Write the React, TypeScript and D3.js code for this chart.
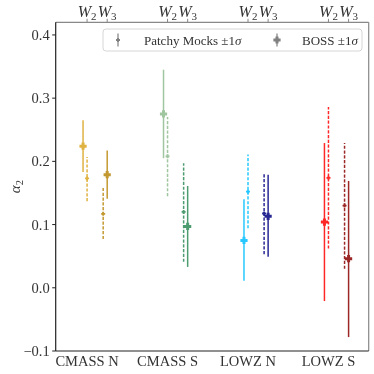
import React, { useEffect, useRef } from "react";
import * as d3 from "d3";

// samples along the x axis
const samples = ["CMASS N", "CMASS S", "LOWZ N", "LOWZ S"];
const w2Colors = ["#DAA520", "#8FBC8F", "#00BFFF", "#FF0000"];
const w3Colors = ["#B8860B", "#2E8B57", "#000080", "#8B0000"];

// BOSS measurements (W2 and W3), centre and 1 sigma bounds
const bossW2 = [0.224, 0.275, 0.075, 0.104];
const bossW2Lo = [0.183, 0.205, 0.011, -0.021];
const bossW2Hi = [0.265, 0.345, 0.14, 0.229];
const bossW3 = [0.179, 0.097, 0.113, 0.046];
const bossW3Lo = [0.141, 0.033, 0.049, -0.078];
const bossW3Hi = [0.217, 0.161, 0.179, 0.169];

// Patchy mocks
const mockW2 = [0.173, 0.208, 0.152, 0.174];
const mockW2Lo = [0.137, 0.145, 0.094, 0.062];
const mockW2Hi = [0.207, 0.27, 0.211, 0.286];
const mockW3 = [0.117, 0.12, 0.1175, 0.13];
const mockW3Lo = [0.077, 0.041, 0.053, 0.03];
const mockW3Hi = [0.158, 0.197, 0.181, 0.229];

const yTicks = [-0.1, 0.0, 0.1, 0.2, 0.3, 0.4];

const FONT = "'Liberation Serif', 'DejaVu Serif', serif";

// thick plus marker (like matplotlib "P")
const plus = (r: number, w: number) => {
  const p = d3.path();
  p.moveTo(-w, -r); p.lineTo(w, -r); p.lineTo(w, -w); p.lineTo(r, -w);
  p.lineTo(r, w); p.lineTo(w, w); p.lineTo(w, r); p.lineTo(-w, r);
  p.lineTo(-w, w); p.lineTo(-r, w); p.lineTo(-r, -w); p.lineTo(-w, -w);
  p.closePath();
  return p.toString();
};

function App() {
  const ref = useRef<SVGSVGElement>(null);

  useEffect(() => {
    const width = 374;
    const height = 374;
    const margin = { top: 22.3, right: 5.3, bottom: 23, left: 55.7 };

    const svg = d3.select(ref.current).attr("width", width).attr("height", height);
    svg.selectAll("*").remove();

    const x = d3.scaleLinear().domain([-0.39, 3.5]).range([margin.left, width - margin.right]);
    const y = d3.scaleLinear().domain([-0.1, 0.42]).range([height - margin.bottom, margin.top]);

    const bossSym = plus(3.6, 1.5);
    const mockSym = plus(2, 0.9);

    const series = [
      { off: -0.05, c: bossW2, lo: bossW2Lo, hi: bossW2Hi, colors: w2Colors, dash: null, sym: bossSym },
      { off: 0.0, c: mockW2, lo: mockW2Lo, hi: mockW2Hi, colors: w2Colors, dash: "3.2,1.6", sym: mockSym },
      { off: 0.2, c: mockW3, lo: mockW3Lo, hi: mockW3Hi, colors: w3Colors, dash: "3.2,1.6", sym: mockSym },
      { off: 0.25, c: bossW3, lo: bossW3Lo, hi: bossW3Hi, colors: w3Colors, dash: null, sym: bossSym },
    ];

    series.forEach((s) => {
      const g = svg.append("g").attr("opacity", 0.85);
      samples.forEach((_, i) => {
        const px = x(i + s.off);
        g.append("line")
          .attr("x1", px).attr("x2", px)
          .attr("y1", y(s.lo[i])).attr("y2", y(s.hi[i]))
          .attr("stroke", s.colors[i])
          .attr("stroke-width", 1.5)
          .attr("stroke-dasharray", s.dash);
        g.append("path")
          .attr("d", s.sym)
          .attr("transform", `translate(${px},${y(s.c[i])})`)
          .attr("fill", s.colors[i]);
      });
    });

    // spines
    const x0 = margin.left, x1 = width - margin.right;
    const y0 = margin.top, y1 = height - margin.bottom;
    svg.append("line").attr("x1", x0).attr("x2", x1).attr("y1", y0).attr("y2", y0).attr("stroke", "#888").attr("stroke-width", 1.2);
    svg.append("line").attr("x1", x1).attr("x2", x1).attr("y1", y0).attr("y2", y1).attr("stroke", "#888").attr("stroke-width", 1.2);
    svg.append("line").attr("x1", x0).attr("x2", x1).attr("y1", y1).attr("y2", y1).attr("stroke", "#222").attr("stroke-width", 1.2);
    svg.append("line").attr("x1", x0).attr("x2", x0).attr("y1", y0).attr("y2", y1).attr("stroke", "#222").attr("stroke-width", 1.2);

    // y axis
    const yAxis = svg.append("g");
    yTicks.forEach((t) => {
      yAxis.append("line")
        .attr("x1", x0 - 3.5).attr("x2", x0)
        .attr("y1", y(t)).attr("y2", y(t))
        .attr("stroke", "#222").attr("stroke-width", 1);
      yAxis.append("text")
        .attr("x", x0 - 6)
        .attr("y", y(t))
        .attr("dy", "0.34em")
        .attr("text-anchor", "end")
        .attr("font-family", FONT)
        .attr("font-size", 14.5)
        .attr("fill", "#333")
        .text(t < 0 ? "\u2212" + d3.format(".1f")(-t) : d3.format(".1f")(t));
    });

    // bottom labels
    samples.forEach((name, i) => {
      svg.append("text")
        .attr("x", x(i))
        .attr("y", 366)
        .attr("text-anchor", "middle")
        .attr("font-family", FONT)
        .attr("font-size", 14.5)
        .attr("fill", "#333")
        .text(name);
    });

    // top ticks W2 W3
    samples.forEach((_, i) => {
      [[0, "2"], [0.25, "3"]].forEach(([o, sub]) => {
        const px = x(i + (o as number));
        svg.append("line")
          .attr("x1", px).attr("x2", px)
          .attr("y1", y0 - 3.5).attr("y2", y0)
          .attr("stroke", "#888").attr("stroke-width", 1);
        const t = svg.append("text")
          .attr("x", px)
          .attr("y", 17)
          .attr("text-anchor", "middle")
          .attr("font-family", FONT)
          .attr("font-size", 16)
          .attr("fill", "#333");
        t.append("tspan").attr("font-style", "italic").text("W");
        t.append("tspan").attr("font-size", 11).attr("dy", 2.5).text(sub as string);
      });
    });

    // y label
    const yl = svg.append("text")
      .attr("transform", `translate(20,${(y0 + y1) / 2}) rotate(-90)`)
      .attr("text-anchor", "middle")
      .attr("font-family", FONT)
      .attr("font-size", 15)
      .attr("fill", "#333");
    yl.append("tspan").attr("font-style", "italic").text("\u03B1");
    yl.append("tspan").attr("font-size", 10.5).attr("dy", 2.5).text("2");

    // legend
    const lg = svg.append("g");
    lg.append("rect")
      .attr("x", 103).attr("y", 29)
      .attr("width", 259).attr("height", 22)
      .attr("rx", 3)
      .attr("fill", "white").attr("fill-opacity", 0.8)
      .attr("stroke", "#d6d6d6").attr("stroke-width", 1);
    const items = [
      { hx: 118, tx: 144, label: "Patchy Mocks \u00B11", sym: mockSym },
      { hx: 277, tx: 302, label: "BOSS \u00B11", sym: bossSym },
    ];
    items.forEach((it) => {
      lg.append("line")
        .attr("x1", it.hx).attr("x2", it.hx)
        .attr("y1", 33.5).attr("y2", 46.5)
        .attr("stroke", "#808080").attr("stroke-width", 1.2);
      lg.append("path")
        .attr("d", it.sym)
        .attr("transform", `translate(${it.hx},40)`)
        .attr("fill", "#808080");
      const t = lg.append("text")
        .attr("x", it.tx).attr("y", 44.5)
        .attr("font-family", FONT)
        .attr("font-size", 13)
        .attr("fill", "#333");
      t.append("tspan").text(it.label);
      t.append("tspan").attr("font-style", "italic").text("\u03C3");
    });
  }, []);

  return (
    <svg ref={ref} style={{ position: "absolute", left: 0, top: 0 }}></svg>
  );
}

export default App;
